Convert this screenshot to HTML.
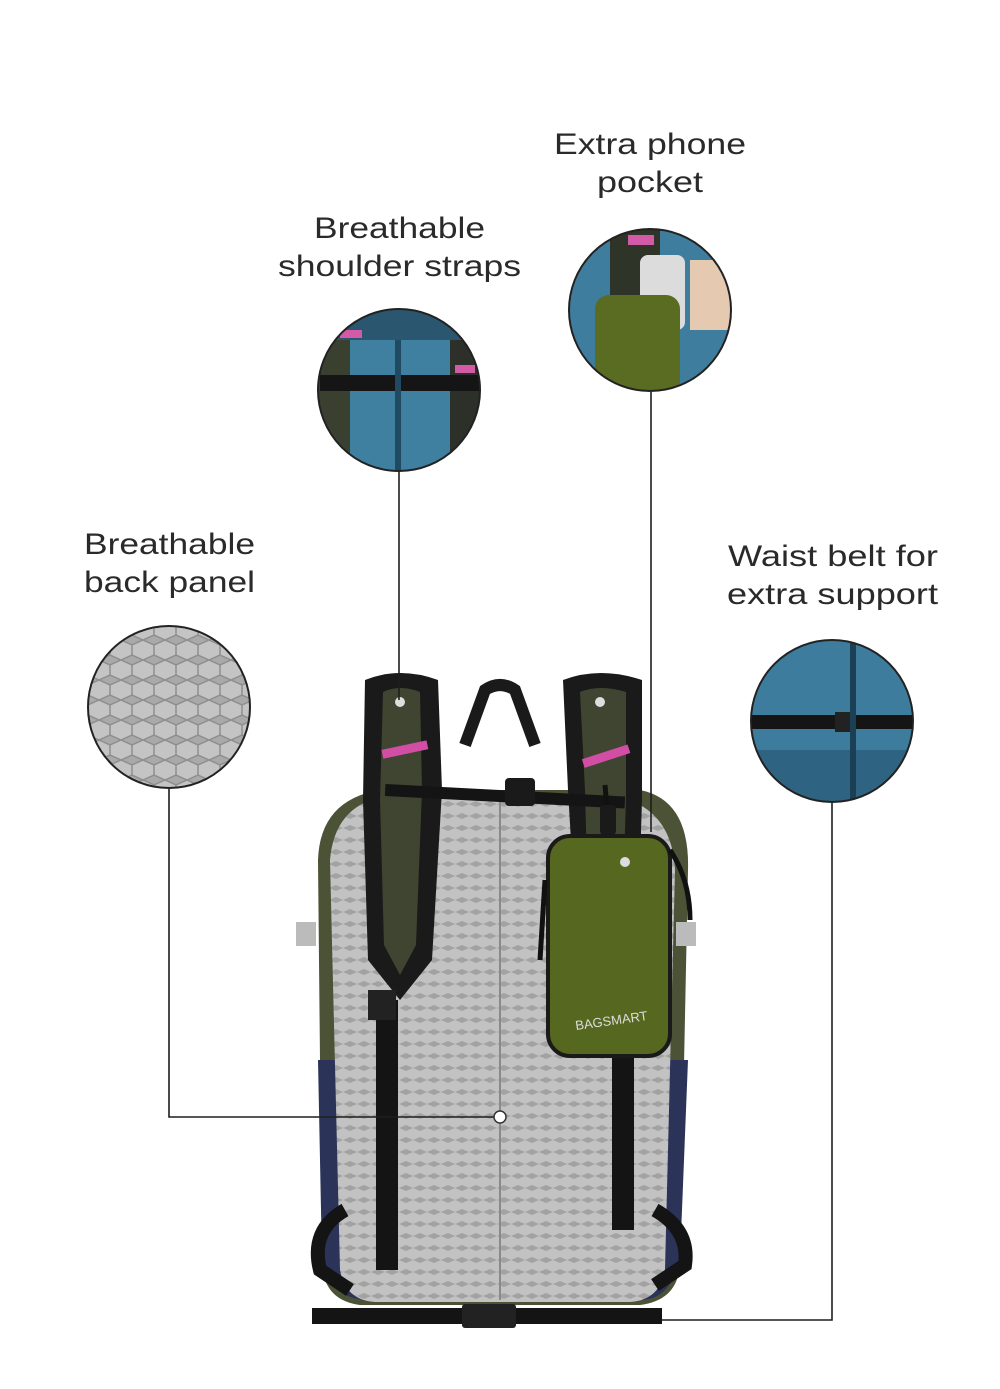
<!DOCTYPE html>
<html><head><meta charset="utf-8"><style>
html,body{margin:0;padding:0;background:#fff;}
svg{display:block}
text{font-family:"Liberation Sans",sans-serif;font-size:30px;fill:#2a2a2a;}
</style></head><body>
<svg width="1000" height="1389" viewBox="0 0 1000 1389" xmlns="http://www.w3.org/2000/svg">
<defs>
<pattern id="mesh" width="22" height="20" patternUnits="userSpaceOnUse">
<rect width="22" height="20" fill="#a9a9a9"/>
<path d="M0 5 L11 0 L22 5 L22 15 L11 20 L0 15Z" fill="#c4c4c4" stroke="#8e8e8e" stroke-width="1.5"/>
</pattern>
<pattern id="mesh2" width="14" height="12" patternUnits="userSpaceOnUse">
<rect width="14" height="12" fill="#a2a2a2"/>
<path d="M0 3 L7 0 L14 3 L14 9 L7 12 L0 9Z" fill="#c2c2c2"/>
</pattern>
<clipPath id="c1"><circle cx="169" cy="707" r="81"/></clipPath>
<clipPath id="c2"><circle cx="399" cy="390" r="81"/></clipPath>
<clipPath id="c3"><circle cx="650" cy="310" r="81"/></clipPath>
<clipPath id="c4"><circle cx="832" cy="721" r="81"/></clipPath>
</defs>

<text x="554" y="154" textLength="192" lengthAdjust="spacingAndGlyphs">Extra phone</text>
<text x="597" y="192" textLength="106" lengthAdjust="spacingAndGlyphs">pocket</text>
<text x="314" y="238" textLength="171" lengthAdjust="spacingAndGlyphs">Breathable</text>
<text x="278" y="276" textLength="243" lengthAdjust="spacingAndGlyphs">shoulder straps</text>
<text x="84" y="554" textLength="171" lengthAdjust="spacingAndGlyphs">Breathable</text>
<text x="84" y="592" textLength="171" lengthAdjust="spacingAndGlyphs">back panel</text>
<text x="728" y="566" textLength="210" lengthAdjust="spacingAndGlyphs">Waist belt for</text>
<text x="727" y="604" textLength="211" lengthAdjust="spacingAndGlyphs">extra support</text>

<g clip-path="url(#c1)"><rect x="80" y="620" width="180" height="180" fill="url(#mesh)"/></g>
<circle cx="169" cy="707" r="81" fill="none" stroke="#222" stroke-width="2"/>

<g clip-path="url(#c2)">
<rect x="310" y="300" width="180" height="180" fill="#3f7fa0"/>
<rect x="310" y="300" width="40" height="180" fill="#3a4030"/>
<rect x="450" y="300" width="40" height="180" fill="#2c3028"/>
<rect x="310" y="300" width="180" height="40" fill="#2b5670"/>
<rect x="320" y="375" width="160" height="16" fill="#151515"/>
<rect x="340" y="330" width="22" height="8" fill="#d35aa6"/>
<rect x="455" y="365" width="20" height="8" fill="#d35aa6"/>
<rect x="395" y="340" width="6" height="140" fill="#1f4a62"/>
</g>
<circle cx="399" cy="390" r="81" fill="none" stroke="#222" stroke-width="2"/>

<g clip-path="url(#c3)">
<rect x="560" y="220" width="180" height="180" fill="#3e7d9e"/>
<rect x="610" y="220" width="50" height="180" fill="#2e3428"/>
<rect x="690" y="260" width="50" height="70" fill="#e5c9b0"/>
<rect x="640" y="255" width="45" height="75" rx="8" fill="#dcdcdc"/>
<rect x="595" y="295" width="85" height="100" rx="14" fill="#5a6b22"/>
<rect x="628" y="235" width="26" height="10" fill="#d35aa6"/>
</g>
<circle cx="650" cy="310" r="81" fill="none" stroke="#222" stroke-width="2"/>

<g clip-path="url(#c4)">
<rect x="745" y="635" width="180" height="180" fill="#3d7c9d"/>
<rect x="745" y="750" width="180" height="70" fill="#2e6482"/>
<rect x="745" y="715" width="180" height="14" fill="#151515"/>
<rect x="835" y="712" width="16" height="20" fill="#222"/>
<rect x="850" y="640" width="6" height="160" fill="#1b3f55"/>
</g>
<circle cx="832" cy="721" r="81" fill="none" stroke="#222" stroke-width="2"/>

<g>
<path d="M318 860 Q320 800 380 790 L640 790 Q690 800 688 870 L680 1260 Q680 1300 640 1305 L360 1305 Q322 1300 322 1260Z" fill="#4b5236"/>
<path d="M318 1060 L322 1260 Q330 1300 370 1300 L380 1060Z" fill="#2b3458"/>
<path d="M688 1060 L680 1260 Q670 1300 640 1300 L630 1060Z" fill="#2b3458"/>
<path d="M330 860 Q335 800 395 795 L610 795 Q672 805 675 870 L665 1270 Q660 1300 630 1302 L375 1302 Q345 1300 340 1270Z" fill="url(#mesh2)"/>
<line x1="500" y1="800" x2="500" y2="1300" stroke="#8a8a8a" stroke-width="2"/>
<path d="M465 745 L485 690 Q500 680 515 690 L535 745" fill="none" stroke="#1a1a1a" stroke-width="12"/>
<path d="M365 680 Q400 666 438 680 L442 790 L432 960 L400 1000 L368 960 L363 800Z" fill="#1a1a1a"/>
<path d="M383 692 Q400 684 420 692 L422 790 L416 945 L400 975 L384 945 L380 800Z" fill="#3f4530"/>
<path d="M563 680 Q600 666 642 680 L642 800 L637 960 L610 1000 L578 960 L568 790Z" fill="#1a1a1a"/>
<path d="M580 692 Q600 684 626 692 L626 800 L621 945 L605 975 L589 945 L585 790Z" fill="#3f4530"/>
<rect x="382" y="745" width="46" height="9" fill="#d24ea4" transform="rotate(-12 405 750)"/>
<rect x="582" y="752" width="48" height="9" fill="#d24ea4" transform="rotate(-18 605 756)"/>
<circle cx="400" cy="702" r="5" fill="#ddd"/>
<circle cx="600" cy="702" r="5" fill="#ddd"/>
<rect x="385" y="790" width="240" height="12" fill="#141414" transform="rotate(3 500 796)"/>
<rect x="505" y="778" width="30" height="28" rx="4" fill="#1a1a1a"/>
<rect x="376" y="1000" width="22" height="270" fill="#141414"/>
<rect x="612" y="1000" width="22" height="230" fill="#141414"/>
<rect x="368" y="990" width="28" height="30" fill="#222"/>
<path d="M345 1210 Q310 1230 320 1270 L350 1290" fill="none" stroke="#141414" stroke-width="14"/>
<path d="M655 1210 Q690 1230 685 1265 L655 1285" fill="none" stroke="#141414" stroke-width="14"/>
<rect x="312" y="1308" width="350" height="16" fill="#141414"/>
<rect x="462" y="1304" width="54" height="24" rx="3" fill="#222"/>
<rect x="296" y="922" width="20" height="24" fill="#bbb"/>
<rect x="676" y="922" width="20" height="24" fill="#bbb"/>
<path d="M605 785 L610 845" stroke="#111" stroke-width="5"/>
<rect x="600" y="805" width="16" height="30" rx="4" fill="#1a1a1a"/>
<rect x="548" y="836" width="122" height="220" rx="22" fill="#56681f" stroke="#1a1a1a" stroke-width="4"/>
<circle cx="625" cy="862" r="5" fill="#ddd"/>
<text x="612" y="1025" style="font-size:13px;fill:#ddd" text-anchor="middle" transform="rotate(-8 612 1025)">BAGSMART</text>
<path d="M670 850 Q690 880 690 920" fill="none" stroke="#111" stroke-width="5"/>
<path d="M545 880 L540 960" stroke="#111" stroke-width="5"/>
</g>

<g stroke="#1e1e1e" stroke-width="1.6" fill="none">
<polyline points="169,789 169,1117 500,1117"/>
<line x1="399" y1="472" x2="399" y2="700"/>
<line x1="651" y1="392" x2="651" y2="832"/>
<polyline points="832,803 832,1320 662,1320"/>
</g>
<circle cx="500" cy="1117" r="6" fill="#fff" stroke="#333" stroke-width="1.5"/>
</svg>
</body></html>
